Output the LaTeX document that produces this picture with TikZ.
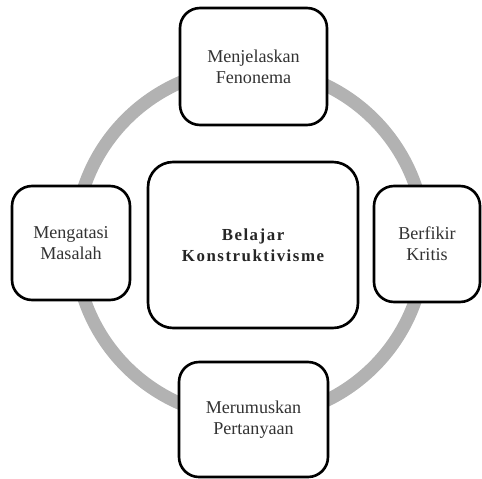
\documentclass[tikz,border=0pt]{standalone}
\usepackage{fontspec}
\setmainfont{Liberation Serif}
\usepackage{tikz}

\begin{document}
\begin{tikzpicture}[x=0.02cm, y=0.02cm,
        box/.style={draw, line width=1.5pt, rounded corners=0.4cm, fill=white, align=center,
            inner sep=0pt, text=black!80, font=\fontsize{10.3}{11.8}\selectfont}]
        \useasboundingbox (0, 0) rectangle (482, 478);

        \draw[line width=7.4pt, gray!60] (250, 235) circle (175);

        \node[box, minimum width=2.94cm, minimum height=2.34cm] (fenomena) at (253.5, 411.5)
            {Menjelaskan\\Fenonema};
        \node[box, minimum width=2.36cm, minimum height=2.28cm] (masalah) at (71, 235)
            {Mengatasi\\Masalah};
        \node[box, minimum width=2.12cm, minimum height=2.32cm] (kritis) at (427, 234)
            {Berfikir\\Kritis};
        \node[box, minimum width=2.98cm, minimum height=2.30cm] (pertanyaan) at (253.5, 58.5)
            {Merumuskan\\Pertanyaan};

        \node[box, rounded corners=0.5cm, minimum width=4.2cm, minimum height=3.32cm,
            text=black!85, font=\fontsize{9.6}{12}\selectfont\bfseries\addfontfeature{LetterSpace=9}]
            (belajar) at (253, 233) {Belajar\\Konstruktivisme};

    \end{tikzpicture}
\end{document}
